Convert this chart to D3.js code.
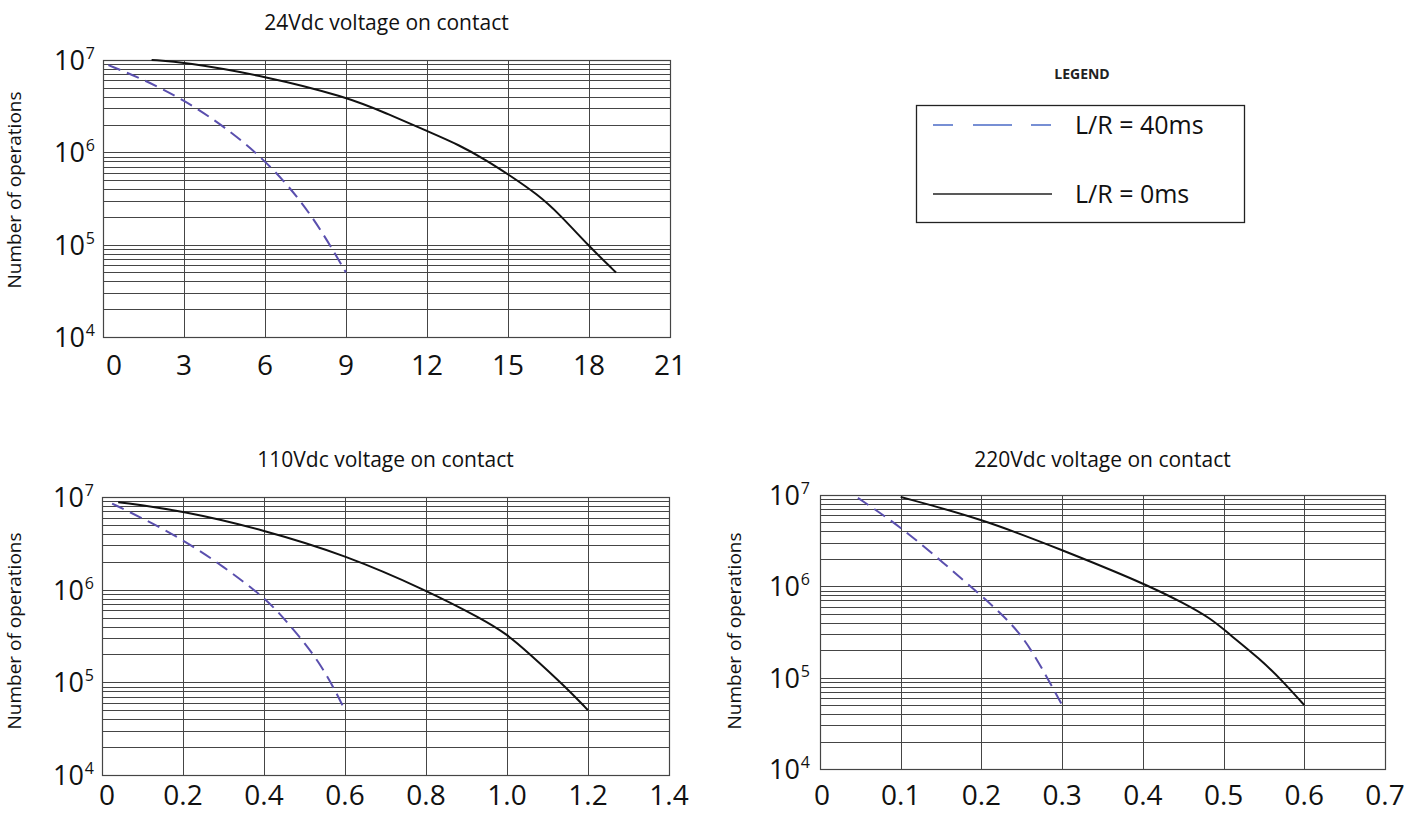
<!DOCTYPE html>
<html><head><meta charset="utf-8">
<script src="https://cdn.jsdelivr.net/npm/d3@7"></script>
<style>body{margin:0;background:#fff} svg{display:block}</style>
</head><body>
<svg id="c" width="1425" height="814"></svg>
<script>
// ---------- DATA ----------
const titles = ["24Vdc voltage on contact", "110Vdc voltage on contact", "220Vdc voltage on contact"];
const yTitle = "Number of operations";
const yDomain = [1e4, 1e7];
const yDecadeExps = [4, 5, 6, 7];

const xTicks24 = [0, 3, 6, 9, 12, 15, 18, 21];
const xLabels24 = ["0", "3", "6", "9", "12", "15", "18", "21"];
const xTicks110 = [0, 0.2, 0.4, 0.6, 0.8, 1.0, 1.2, 1.4];
const xLabels110 = ["0", "0.2", "0.4", "0.6", "0.8", "1.0", "1.2", "1.4"];
const xTicks220 = [0, 0.1, 0.2, 0.3, 0.4, 0.5, 0.6, 0.7];
const xLabels220 = ["0", "0.1", "0.2", "0.3", "0.4", "0.5", "0.6", "0.7"];

// [current (A), number of operations]
const v24_40ms = [[0.2, 8.8e6], [1.5, 6.17e6], [3, 3.7e6], [4.5, 1.9e6], [6, 8.3e5], [7.3, 3.1e5], [8.2, 1.26e5], [9, 5e4]];
const v24_0ms = [[1.8, 1e7], [3, 9.5e6], [6, 6.7e6], [9, 4.0e6], [10.5, 2.65e6], [12, 1.7e6], [13.2, 1.2e6], [14.2, 8.2e5], [15, 5.8e5], [16.1, 3.5e5], [16.9, 2.15e5], [18, 9.6e4], [19, 5e4]];
const v110_40ms = [[0.025, 8.5e6], [0.1, 5.9e6], [0.2, 3.47e6], [0.3, 1.78e6], [0.4, 8.3e5], [0.45, 4.9e5], [0.54, 1.66e5], [0.6, 5e4]];
const v110_0ms = [[0.04, 8.8e6], [0.2, 7.1e6], [0.4, 4.4e6], [0.6, 2.37e6], [0.8, 9.9e5], [0.94, 4.8e5], [1.0, 3.3e5], [1.05, 2.14e5], [1.145, 8.9e4], [1.2, 5e4]];
const v220_40ms = [[0.047, 9.3e6], [0.1, 4.47e6], [0.15, 1.9e6], [0.2, 7.9e5], [0.234, 4.2e5], [0.26, 2.24e5], [0.3, 5e4]];
const v220_0ms = [[0.1, 9.5e6], [0.2, 5.5e6], [0.3, 2.5e6], [0.4, 1.09e6], [0.45, 6.6e5], [0.485, 4.4e5], [0.505, 3.1e5], [0.546, 1.58e5], [0.572, 9.4e4], [0.6, 5e4]];

const legendTitle = "LEGEND";
const legendLabels = ["L/R = 40ms", "L/R = 0ms"];

// ---------- LAYOUT ----------
const FONT = "'Open Sans', 'Noto Sans', sans-serif";
const COL_DASH = "#5a4fae";
const COL_LEG_DASH = "#4b6bc6";
const GRID = "#454545";

const panels = [
  {title: titles[0], xDom: [0, 21], ticks: xTicks24, labels: xLabels24, s40: v24_40ms, s0: v24_0ms,
   x0: 103, x1: 670, y0: 60, y1: 337, titleY: 30, yTitleX: 21, yTitleY: 190, yLabOff: 8, zeroOff: 11, labY: 375},
  {title: titles[1], xDom: [0, 1.4], ticks: xTicks110, labels: xLabels110, s40: v110_40ms, s0: v110_0ms,
   x0: 102, x1: 669, y0: 497, y1: 775, titleY: 467, yTitleX: 21, yTitleY: 631, yLabOff: 8, zeroOff: 5, labY: 805},
  {title: titles[2], xDom: [0, 0.7], ticks: xTicks220, labels: xLabels220, s40: v220_40ms, s0: v220_0ms,
   x0: 820, x1: 1385, y0: 495, y1: 769, titleY: 467, yTitleX: 741, yTitleY: 631, yLabOff: 10, zeroOff: 2, labY: 805}
];

const svg = d3.select("#c");

panels.forEach(p => {
  const g = svg.append("g");
  const x = d3.scaleLinear().domain(p.xDom).range([p.x0, p.x1]);
  const y = d3.scaleLog().domain(yDomain).range([p.y1, p.y0]);

  // title
  g.append("text").attr("x", (p.x0 + p.x1) / 2).attr("y", p.titleY)
    .attr("text-anchor", "middle").attr("font-family", FONT).attr("font-size", 21)
    .attr("fill", "#111").text(p.title);

  // y title
  g.append("text").attr("transform", `translate(${p.yTitleX},${p.yTitleY}) rotate(-90)`)
    .attr("text-anchor", "middle").attr("font-family", FONT).attr("font-size", 19)
    .attr("fill", "#111").text(yTitle);

  // horizontal grid (log minor lines)
  g.append("g").selectAll("line").data(y.ticks()).join("line")
    .attr("x1", p.x0).attr("x2", p.x1)
    .attr("y1", d => Math.round(y(d)) + 0.5).attr("y2", d => Math.round(y(d)) + 0.5)
    .attr("stroke", GRID).attr("stroke-width", 1);

  // vertical grid
  g.append("g").selectAll("line").data(p.ticks).join("line")
    .attr("x1", d => Math.round(x(d)) + 0.5).attr("x2", d => Math.round(x(d)) + 0.5)
    .attr("y1", p.y0).attr("y2", p.y1)
    .attr("stroke", GRID).attr("stroke-width", 1);

  // frame
  g.append("rect").attr("x", p.x0 + 0.5).attr("y", Math.round(p.y0) + 0.5)
    .attr("width", p.x1 - p.x0).attr("height", p.y1 - p.y0)
    .attr("fill", "none").attr("stroke", GRID).attr("stroke-width", 1.2);

  // x tick labels
  g.append("g").selectAll("text").data(p.ticks).join("text")
    .attr("x", (d, i) => x(d) + (i === 0 ? p.zeroOff : 0)).attr("y", p.labY)
    .attr("text-anchor", "middle").attr("font-family", FONT).attr("font-size", 28)
    .attr("fill", "#111").text((d, i) => p.labels[i]);

  // y tick labels 10^n
  const yl = g.append("g").selectAll("text").data(yDecadeExps).join("text")
    .attr("x", p.x0 - p.yLabOff).attr("y", d => y(Math.pow(10, d)) + 10)
    .attr("text-anchor", "end").attr("font-family", FONT).attr("font-size", 27).attr("fill", "#111");
  yl.append("tspan").text("10");
  yl.append("tspan").attr("font-size", 16).attr("dy", -11).attr("dx", 1).text(d => d);

  const line = d3.line().x(d => x(d[0])).y(d => y(d[1])).curve(d3.curveBasis);

  g.append("path").attr("d", line(p.s40)).attr("fill", "none")
    .attr("stroke", COL_DASH).attr("stroke-width", 2).attr("stroke-dasharray", "13,7");
  g.append("path").attr("d", line(p.s0)).attr("fill", "none")
    .attr("stroke", "#111").attr("stroke-width", 2);
});

// ---------- LEGEND ----------
const lg = svg.append("g");
lg.append("text").attr("x", 1082).attr("y", 79).attr("text-anchor", "middle")
  .attr("font-family", FONT).attr("font-weight", "bold").attr("font-size", 14)
  .attr("fill", "#222").text(legendTitle);
lg.append("rect").attr("x", 916.5).attr("y", 105.5).attr("width", 328).attr("height", 117)
  .attr("fill", "none").attr("stroke", "#222").attr("stroke-width", 1.3);
lg.append("line").attr("x1", 933).attr("x2", 1052).attr("y1", 125).attr("y2", 125)
  .attr("stroke", COL_LEG_DASH).attr("stroke-width", 1.5).attr("stroke-dasharray", "20,20,39,19,20");
lg.append("line").attr("x1", 933).attr("x2", 1052).attr("y1", 194).attr("y2", 194)
  .attr("stroke", "#222").attr("stroke-width", 1.5);
lg.selectAll("text.lab").data(legendLabels).join("text").attr("class", "lab")
  .attr("x", 1075).attr("y", (d, i) => i === 0 ? 134 : 203)
  .attr("font-family", FONT).attr("font-size", 25).attr("fill", "#111").text(d => d);
</script>
</body></html>
